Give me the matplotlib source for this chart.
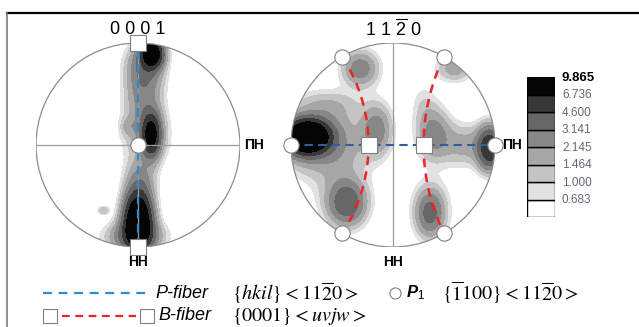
import numpy as np
import matplotlib.pyplot as plt
from matplotlib.patches import Circle

plt.rcParams['font.family'] = ['Liberation Sans', 'DejaVu Sans']
plt.rcParams['mathtext.fontset'] = 'stix'
plt.rcParams['mathtext.rm'] = 'Liberation Sans'
plt.rcParams['mathtext.it'] = 'Liberation Sans:italic:bold'

# contour levels of the pole figures (mrd)
levels = [0.0, 0.683, 1.000, 1.464, 2.145, 3.141, 4.600, 6.736, 9.865]
level_colors = ['#ffffff', '#e2e2e2', '#c4c4c4', '#a6a6a6', '#878787', '#676767', '#383838', '#050505']
cbar_labels = ['0.683', '1.000', '1.464', '2.145', '3.141', '4.600', '6.736', '9.865']

pf0001_cx = [0.14, 0.07, 0.05, 0.13, 0.08, 0.02, 0.0, -0.03, -0.34, -0.10]
pf0001_cy = [0.90, 0.78, 0.50, 0.10, 0.10, -0.35, -0.74, -0.90, -0.64, 0.18]
pf0001_sx = [0.07, 0.12, 0.12, 0.06, 0.15, 0.10, 0.09, 0.18, 0.04, 0.05]
pf0001_sy = [0.09, 0.15, 0.20, 0.14, 0.20, 0.15, 0.18, 0.10, 0.03, 0.06]
pf0001_h = [9.0, 2.5, 2.0, 7.0, 1.6, 1.8, 12.0, 3.0, 1.2, 0.8]

pf1120_cx = [-0.84, -0.72, 0.95, 0.70, -0.32, 0.60, -0.16, 0.40, -0.45, 0.36, -0.62, -0.50, 0.30, 0.38]
pf1120_cy = [0.08, 0.05, -0.03, 0.00, 0.75, 0.75, 0.15, 0.11, -0.57, -0.67, 0.40, -0.45, 0.40, -0.62]
pf1120_sx = [0.13, 0.28, 0.08, 0.16, 0.12, 0.12, 0.10, 0.11, 0.12, 0.09, 0.22, 0.18, 0.09, 0.14]
pf1120_sy = [0.10, 0.22, 0.14, 0.14, 0.12, 0.09, 0.17, 0.17, 0.14, 0.15, 0.10, 0.25, 0.15, 0.22]
pf1120_h = [14.0, 2.5, 6.0, 1.5, 2.5, 1.6, 2.3, 2.3, 3.5, 2.8, 0.8, 0.9, 0.6, 0.8]

# ideal orientations
p1_x = [-1.0, 1.0, -0.5, 0.5, -0.5, 0.5]
p1_y = [0.0, 0.0, 0.866, 0.866, -0.866, -0.866]
b_sq_x = [-0.24, 0.30]


def density(cx, cy, sx, sy, h, n=301):
    g = np.linspace(-1.0, 1.0, n)
    X, Y = np.meshgrid(g, g)
    Z = np.full_like(X, 0.2)
    for a, b, c, d, e in zip(cx, cy, sx, sy, h):
        Z += e * np.exp(-((X - a) ** 2 / (2 * c ** 2) + (Y - b) ** 2 / (2 * d ** 2)))
    return X, Y, Z


def pole_axes(fig, cx_px, cy_px, r_px):
    ax = fig.add_axes([(cx_px - r_px) / 639, (327 - cy_px - r_px) / 327, 2 * r_px / 639, 2 * r_px / 327])
    ax.set_xlim(-1, 1)
    ax.set_ylim(-1, 1)
    ax.axis('off')
    return ax


def draw_density(ax, X, Y, Z):
    lv = levels[:-1] + [max(Z.max(), levels[-1]) + 1]
    cs = ax.contourf(X, Y, Z, levels=lv, colors=level_colors)
    clip = Circle((0, 0), 1, transform=ax.transData)
    cs.set_clip_path(clip)
    ax.add_patch(Circle((0, 0), 1, fill=False, ec='#8c8c8c', lw=0.9, zorder=3))


def arc_through(p0, p1, p2, n=80):
    (x1, y1), (x2, y2), (x3, y3) = p0, p1, p2
    d = 2 * (x1 * (y2 - y3) + x2 * (y3 - y1) + x3 * (y1 - y2))
    ux = ((x1**2 + y1**2) * (y2 - y3) + (x2**2 + y2**2) * (y3 - y1) + (x3**2 + y3**2) * (y1 - y2)) / d
    uy = ((x1**2 + y1**2) * (x3 - x2) + (x2**2 + y2**2) * (x1 - x3) + (x3**2 + y3**2) * (x2 - x1)) / d
    r = np.hypot(x1 - ux, y1 - uy)
    a0 = np.arctan2(y1 - uy, x1 - ux)
    a2 = np.arctan2(y3 - uy, x3 - ux)
    if ux > x2:
        a0 = a0 % (2 * np.pi)
        a2 = a2 % (2 * np.pi)
    t = np.linspace(a0, a2, n)
    return ux + r * np.cos(t), uy + r * np.sin(t)


fig = plt.figure(figsize=(6.39, 3.27), dpi=100)

# frame + legend layer in pixel coordinates
bg = fig.add_axes([0, 0, 1, 1])
bg.set_xlim(0, 639)
bg.set_ylim(327, 0)
bg.axis('off')
bg.plot([7, 639], [13, 13], color='black', lw=1.6)
bg.plot([7, 7], [13, 327], color='#7a7a7a', lw=1.2)

# (0001) pole figure
ax1 = pole_axes(fig, 138, 145, 102)
X, Y, Z = density(pf0001_cx, pf0001_cy, pf0001_sx, pf0001_sy, pf0001_h)
draw_density(ax1, X, Y, Z)
ax1.plot([-1, 1], [0, 0], color='#9a9a9a', lw=0.9, zorder=4)
ax1.plot([0, 0], [-1, 1], color='#9a9a9a', lw=0.9, zorder=4)
ax1.plot([0, 0], [-1, 1], color='#2e8bd0', lw=1.6, ls=(0, (4, 2.5)), zorder=5)
ax1.plot([0, 0], [1, -1], ls='none', marker='s', ms=11, mfc='white', mec='#808080', mew=0.8,
         zorder=6, clip_on=False)
ax1.plot([0], [0], ls='none', marker='o', ms=11, mfc='white', mec='#808080', mew=0.8, zorder=6)
ax1.text(0, 1.13, '0 0 0 1', ha='center', va='center', fontsize=13)
ax1.text(1.04, 0, 'ПН', ha='left', va='center', fontsize=10, fontweight='bold')
ax1.text(0, -1.15, 'НН', ha='center', va='center', fontsize=10, fontweight='bold')

# (11-20) pole figure
ax2 = pole_axes(fig, 393, 145, 102)
X, Y, Z = density(pf1120_cx, pf1120_cy, pf1120_sx, pf1120_sy, pf1120_h)
draw_density(ax2, X, Y, Z)
ax2.plot([0, 0], [-1, 1], color='#9a9a9a', lw=0.9, zorder=4)
ax2.plot([-1, 1], [0, 0], color='#2f5f9a', lw=1.5, ls=(0, (4, 2.5)), zorder=5)
for sx in b_sq_x:
    side = -1 if sx < 0 else 1
    ax_, ay_ = arc_through((0.5 * side, 0.866), (sx, 0), (0.5 * side, -0.866))
    ax2.plot(ax_, ay_, color='#e8262a', lw=1.8, ls=(0, (3.5, 2.5)), zorder=5)
ax2.plot(b_sq_x, [0, 0], ls='none', marker='s', ms=11, mfc='white', mec='#808080', mew=0.8, zorder=6)
ax2.plot(p1_x, p1_y, ls='none', marker='o', ms=11, mfc='white', mec='#808080', mew=0.8,
         zorder=6, clip_on=False)
ax2.text(0, 1.13, r'1 1 $\overline{\mathrm{2}}$ 0', ha='center', va='center', fontsize=13,
         math_fontfamily='custom')
ax2.text(1.07, 0, 'ПН', ha='left', va='center', fontsize=10, fontweight='bold')
ax2.text(0, -1.15, 'НН', ha='center', va='center', fontsize=10, fontweight='bold')

# colour scale
cb = fig.add_axes([527 / 639, 110 / 327, 28 / 639, 140 / 327])
cb.bar(np.zeros(len(level_colors)), np.ones(len(level_colors)), bottom=np.arange(len(level_colors)),
       width=1, color=level_colors, edgecolor='black', lw=1.0)
cb.set_xlim(-0.5, 0.5)
cb.set_ylim(0, len(level_colors))
cb.axis('off')
for i, lab in enumerate(cbar_labels):
    top = i == len(cbar_labels) - 1
    cb.text(0.75, i + 0.95, lab, ha='left', va='center', fontsize=9.5 if top else 8.5,
            fontweight='bold' if top else 'normal', color='black' if top else '#666677')

# legend
row1, row2 = 293, 316
bg.plot([43, 148], [row1, row1], color='#2e8bd0', lw=1.6, ls=(0, (4, 3)))
bg.text(155, row1, 'P-fiber', style='italic', fontsize=13, ha='left', va='center')
bg.text(232, row1, r'$\{hkil\} < 11\overline{2}0 >$', fontsize=14.5, ha='left', va='center',
        math_fontfamily='stix')
bg.plot([395], [row1], ls='none', marker='o', ms=8, mfc='white', mec='#808080', mew=0.8)
bg.text(406, row1, r'$P_{1}$', fontsize=12, ha='left', va='center', math_fontfamily='custom')
bg.text(442, row1, r'$\{\overline{1}100\} < 11\overline{2}0 >$', fontsize=14.5, ha='left', va='center',
        math_fontfamily='stix')
bg.plot([62, 136], [row2, row2], color='#e8262a', lw=1.6, ls=(0, (3.5, 2.5)))
bg.plot([50, 147], [row2, row2], ls='none', marker='s', ms=10, mfc='white', mec='#808080', mew=0.8)
bg.text(158, row2, 'B-fiber', style='italic', fontsize=13, ha='left', va='center')
bg.text(232, row2, r'$\{0001\} < uvjw >$', fontsize=14.5, ha='left', va='center',
        math_fontfamily='stix')

fig.savefig('out.png', dpi=100)
